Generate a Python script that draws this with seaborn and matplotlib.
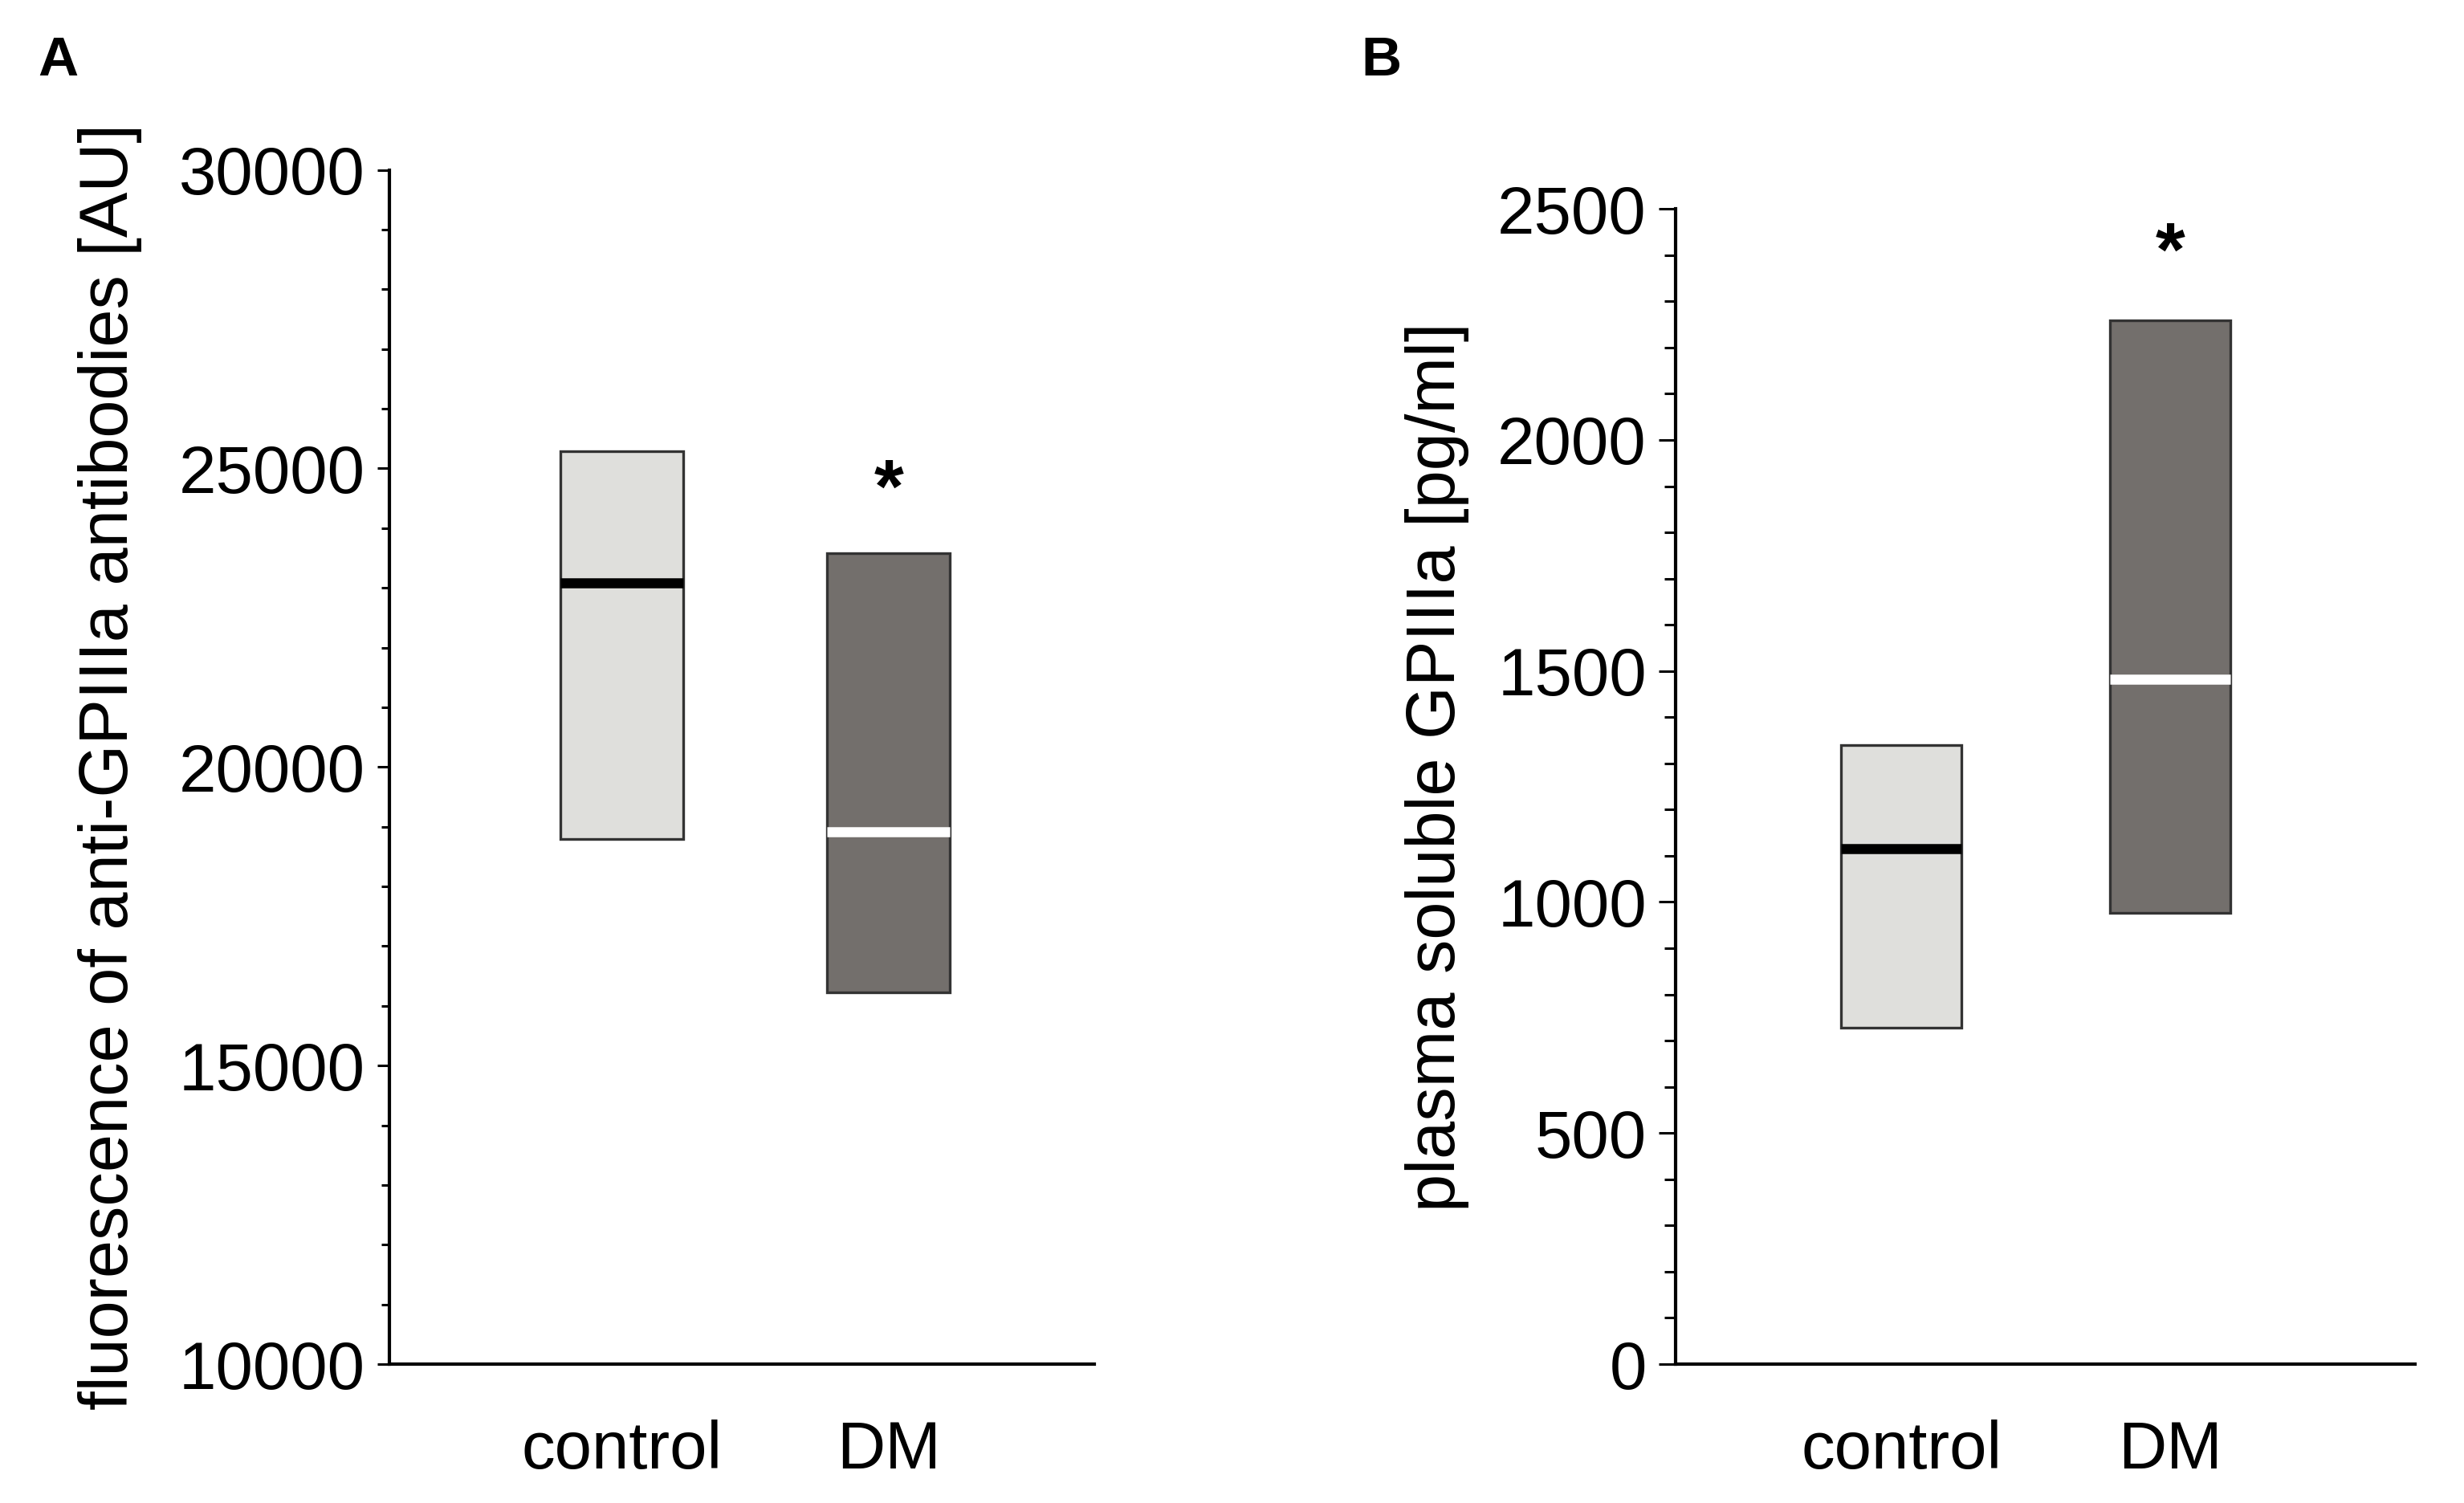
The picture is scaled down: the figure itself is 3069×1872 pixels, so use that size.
import numpy as np
import pandas as pd
import matplotlib
matplotlib.use("Agg")
import matplotlib.pyplot as plt
import seaborn as sns
from matplotlib.ticker import MultipleLocator

sns.set_style("ticks")
plt.rcParams['font.family'] = ['Liberation Sans', 'DejaVu Sans']
for key in ["text.color", "axes.labelcolor", "xtick.color", "ytick.color", "axes.edgecolor"]:
    plt.rcParams[key] = "black"

# ---- data ----
categories = ["control", "DM"]
colors = ["#dfdfdc", "#736f6c"]
median_colors = ["#000000", "#ffffff"]

a_low = [18800, 16230]
a_median = [23080, 18920]
a_high = [25290, 23580]
a_star = 24600

b_low = [728, 976]
b_median = [1116, 1483]
b_high = [1340, 2259]
b_star = 2400

a_ylabel = "fluorescence of anti-GPIIIa antibodies [AU]"
b_ylabel = "plasma soluble GPIIIa [pg/ml]"

fig = plt.figure(figsize=(30.69, 18.72), dpi=100)
axA = fig.add_axes([0.158, 0.0924, 0.286, 0.887 - 0.0924])
axB = fig.add_axes([0.680, 0.0924, 0.300, 0.861 - 0.0924])


def draw_panel(ax, low, med, high, width):
    for i, cat in enumerate(categories):
        vals = [low[i], low[i], med[i], high[i], high[i]]
        df = pd.DataFrame({"group": [cat] * len(vals), "value": vals})
        sns.boxplot(data=df, x="group", y="value", order=categories, ax=ax,
                    color=colors[i], saturation=1, width=width, whis=0,
                    showcaps=False, showfliers=False, linecolor="#333333",
                    linewidth=2.4,
                    medianprops=dict(color=median_colors[i], linewidth=9,
                                     solid_capstyle="butt"))


draw_panel(axA, a_low, a_median, a_high, 0.46)
draw_panel(axB, b_low, b_median, b_high, 0.45)

# Panel A axes
axA.set_ylim(10000, 30000)
axA.set_xlim(-0.87, 1.77)
axA.yaxis.set_major_locator(MultipleLocator(5000))
axA.yaxis.set_minor_locator(MultipleLocator(1000))
axA.tick_params(axis="y", which="major", length=11, width=2.2, labelsize=60, pad=11)
axA.tick_params(axis="y", which="minor", length=7, width=2.2)
axA.text(1, a_star, "*", ha="center", va="center", fontsize=68, fontweight="bold")
axA.set_ylabel(a_ylabel, fontsize=61, va="center")
axA.yaxis.set_label_coords(-0.396, 0.5)

# Panel B axes
axB.set_ylim(0, 2500)
axB.set_xlim(-0.84, 1.91)
axB.yaxis.set_major_locator(MultipleLocator(500))
axB.yaxis.set_minor_locator(MultipleLocator(100))
axB.tick_params(axis="y", which="major", length=15, width=2.2, labelsize=60, pad=11)
axB.tick_params(axis="y", which="minor", length=10, width=2.2)
axB.text(1, b_star, "*", ha="center", va="center", fontsize=68, fontweight="bold")
axB.set_ylabel(b_ylabel, fontsize=61, va="center")
axB.yaxis.set_label_coords(-0.323, 0.517)

for ax in (axA, axB):
    sns.despine(ax=ax)
    ax.spines["left"].set_linewidth(3)
    ax.spines["bottom"].set_linewidth(3)
    ax.set_xlabel("")
    ax.tick_params(axis="x", length=0, labelsize=60, pad=50)

fig.text(47 / 3069, 1 - 44 / 1872, "A", ha="left", va="top", fontsize=50, fontweight="bold")
fig.text(1695 / 3069, 1 - 44 / 1872, "B", ha="left", va="top", fontsize=50, fontweight="bold")

fig.savefig("out.png", dpi=100, facecolor="white")
